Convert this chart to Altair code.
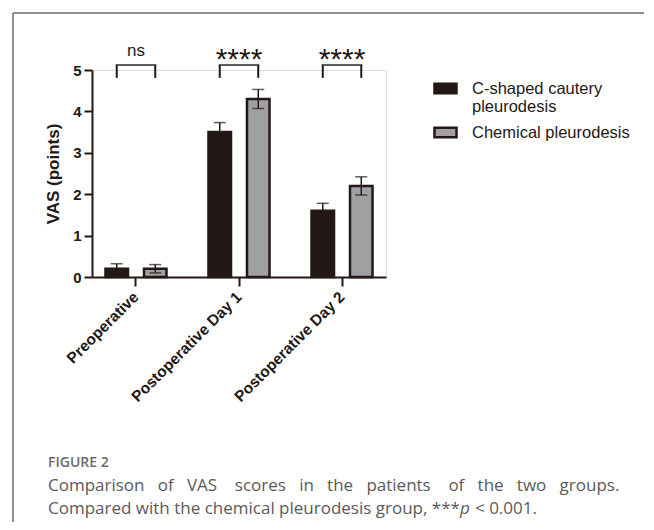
import altair as alt
import pandas as pd

categories = ["Preoperative", "Postoperative Day 1", "Postoperative Day 2"]
groups = ["C-shaped cautery pleurodesis", "Chemical pleurodesis"]
cautery_mean = [0.2, 3.5, 1.6]
cautery_sd = [0.12, 0.23, 0.18]
chemical_mean = [0.2, 4.3, 2.2]
chemical_sd = [0.10, 0.23, 0.22]
sig_labels = ["ns", "****", "****"]

rows = []
for i, c in enumerate(categories):
    rows.append(dict(category=c, group=groups[0], mean=cautery_mean[i], sd=cautery_sd[i]))
    rows.append(dict(category=c, group=groups[1], mean=chemical_mean[i], sd=chemical_sd[i]))
df = pd.DataFrame(rows)
df["lo"] = df["mean"] - df["sd"]
df["hi"] = df["mean"] + df["sd"]

brk = pd.DataFrame([dict(category=c, group=g) for c in categories for g in groups])
brk["b_lo"] = 4.81
brk["b_hi"] = 5.12
sig = pd.DataFrame(dict(category=categories, label=sig_labels))
sig["top"] = 5.12

DARK = "#231815"
GRAY = "#a0a0a3"
FONT = "Liberation Sans"

xscale = alt.Scale(domain=categories, paddingInner=0.3, paddingOuter=0.077)
offscale = alt.Scale(domain=groups, paddingInner=0.415, paddingOuter=0.144)
yscale = alt.Scale(domain=[0, 5], nice=False, zero=True)

X = alt.X("category:N", scale=xscale, sort=categories, title=None,
          axis=alt.Axis(labelAngle=-45, labelAlign="right", labelBaseline="middle",
                        labelFont=FONT, labelFontSize=15.5, labelFontWeight="bold",
                        labelColor=DARK, labelPadding=8, tickSize=9, tickWidth=2,
                        tickColor=DARK, domainColor=DARK, domainWidth=2, labelLimit=300))
XO = alt.XOffset("group:N", scale=offscale, sort=groups)

Y = alt.Y("mean:Q", scale=yscale,
          axis=alt.Axis(values=[0, 1, 2, 3, 4, 5], labelFont=FONT, labelFontSize=15,
                        labelFontWeight="bold", labelColor=DARK, labelPadding=3,
                        tickSize=8, tickWidth=2, tickColor=DARK, domainColor=DARK,
                        domainWidth=2, grid=False, title="VAS (points)",
                        titleFont=FONT, titleFontSize=17, titleFontWeight="bold",
                        titleColor=DARK, titlePadding=10))

bars = alt.Chart(df).mark_bar(stroke=DARK, strokeWidth=2.5).encode(
    x=X, xOffset=XO, y=Y,
    color=alt.Color("group:N", scale=alt.Scale(domain=groups, range=[DARK, GRAY]),
                    legend=alt.Legend(title=None, orient="none", legendX=341, legendY=6,
                                      symbolType="M-1,-0.43H1V0.43H-1Z", symbolSize=484,
                                      symbolStrokeColor=DARK, symbolStrokeWidth=2.5,
                                      labelFont=FONT, labelFontSize=16.5, labelColor=DARK,
                                      labelLimit=300, labelOffset=14, padding=0,
                                      rowPadding=4,
                                      labelExpr="datum.label == 'C-shaped cautery pleurodesis' ? ['C-shaped cautery', 'pleurodesis'] : datum.label")),
)

err = alt.Chart(df).mark_rule(color=DARK, strokeWidth=1.5).encode(
    x=X, xOffset=XO, y=alt.Y("lo:Q", scale=yscale), y2="hi:Q")
cap_hi = alt.Chart(df).mark_tick(color=DARK, thickness=1.5, size=12).encode(
    x=X, xOffset=XO, y=alt.Y("hi:Q", scale=yscale))
cap_lo = alt.Chart(df).mark_tick(color=DARK, thickness=1.5, size=12).encode(
    x=X, xOffset=XO, y=alt.Y("lo:Q", scale=yscale))

legs = alt.Chart(brk).mark_rule(color=DARK, strokeWidth=2).encode(
    x=X, xOffset=XO, y=alt.Y("b_lo:Q", scale=yscale), y2="b_hi:Q")
tops = alt.Chart(sig).mark_tick(color=DARK, thickness=2, size=40.5).encode(
    x=X, y=alt.Y("top:Q", scale=yscale))

ns_text = alt.Chart(sig).transform_filter("datum.label == 'ns'").transform_calculate(
    ty="5.34").mark_text(font=FONT, fontSize=17, color=DARK, baseline="alphabetic").encode(
    x=X, y=alt.Y("ty:Q", scale=yscale), text="label:N")
star_text = alt.Chart(sig).transform_filter("datum.label != 'ns'").transform_calculate(
    ty="5.03").mark_text(font=FONT, fontSize=30, color=DARK, baseline="alphabetic").encode(
    x=X, y=alt.Y("ty:Q", scale=yscale), text="label:N")

one = pd.DataFrame({"k": [0]})
frame_v = alt.Chart(one).mark_rule(color="#6b6b6b", strokeWidth=1.5).encode(
    x=alt.value(-79), y=alt.value(-57), y2=alt.value(480))
frame_h = alt.Chart(one).mark_rule(color="#6b6b6b", strokeWidth=1.5).encode(
    x=alt.value(-79), x2=alt.value(570), y=alt.value(-57))

CAP = "Open Sans"
CAPC = "#5a5a5a"
S = " "
N = "\u00a0"
words1 = ["Comparison", "of", "VAS", "scores", "in", "the", "patients", "of", "the", "two", "groups."]
gaps = [2, 2, 3, 2, 2, 2, 3, 2, 2, 2]
line1_text = words1[0]
for w, g in zip(words1[1:], gaps):
    line1_text += S + N * g + w

fig = alt.Chart(one).mark_text(text="FIGURE 2", font=CAP, fontSize=14, fontWeight=600,
                               color="#6a6a6a", align="left", baseline="middle").encode(
    x=alt.value(-44), y=alt.value(393))
line1 = alt.Chart(one).mark_text(text=line1_text,
                                 font=CAP, fontSize=17, color=CAPC, align="left",
                                 baseline="middle").encode(x=alt.value(-44), y=alt.value(416))
line2a = alt.Chart(one).mark_text(text="Compared with the chemical pleurodesis group, ***",
                                  font=CAP, fontSize=17, color=CAPC, align="left",
                                  baseline="middle").encode(x=alt.value(-44), y=alt.value(439))
line2b = alt.Chart(one).mark_text(text="p", font=CAP, fontSize=17, fontStyle="italic",
                                  color=CAPC, align="left",
                                  baseline="middle").encode(x=alt.value(368), y=alt.value(439))
line2c = alt.Chart(one).mark_text(text="< 0.001.", font=CAP, fontSize=17,
                                  color=CAPC, align="left",
                                  baseline="middle").encode(x=alt.value(383), y=alt.value(439))

chart = alt.layer(bars, err, cap_hi, cap_lo, legs, tops, ns_text, star_text,
                  frame_v, frame_h, fig, line1, line2a, line2b, line2c).properties(
    width=294, height=207,
    autosize=alt.AutoSizeParams(type="none"),
    padding={"left": 84, "top": 62, "right": 258, "bottom": 245},
).configure_view(stroke=None).configure(background="white")

chart.save("out.html", embed_options={"renderer": "svg", "actions": False})
